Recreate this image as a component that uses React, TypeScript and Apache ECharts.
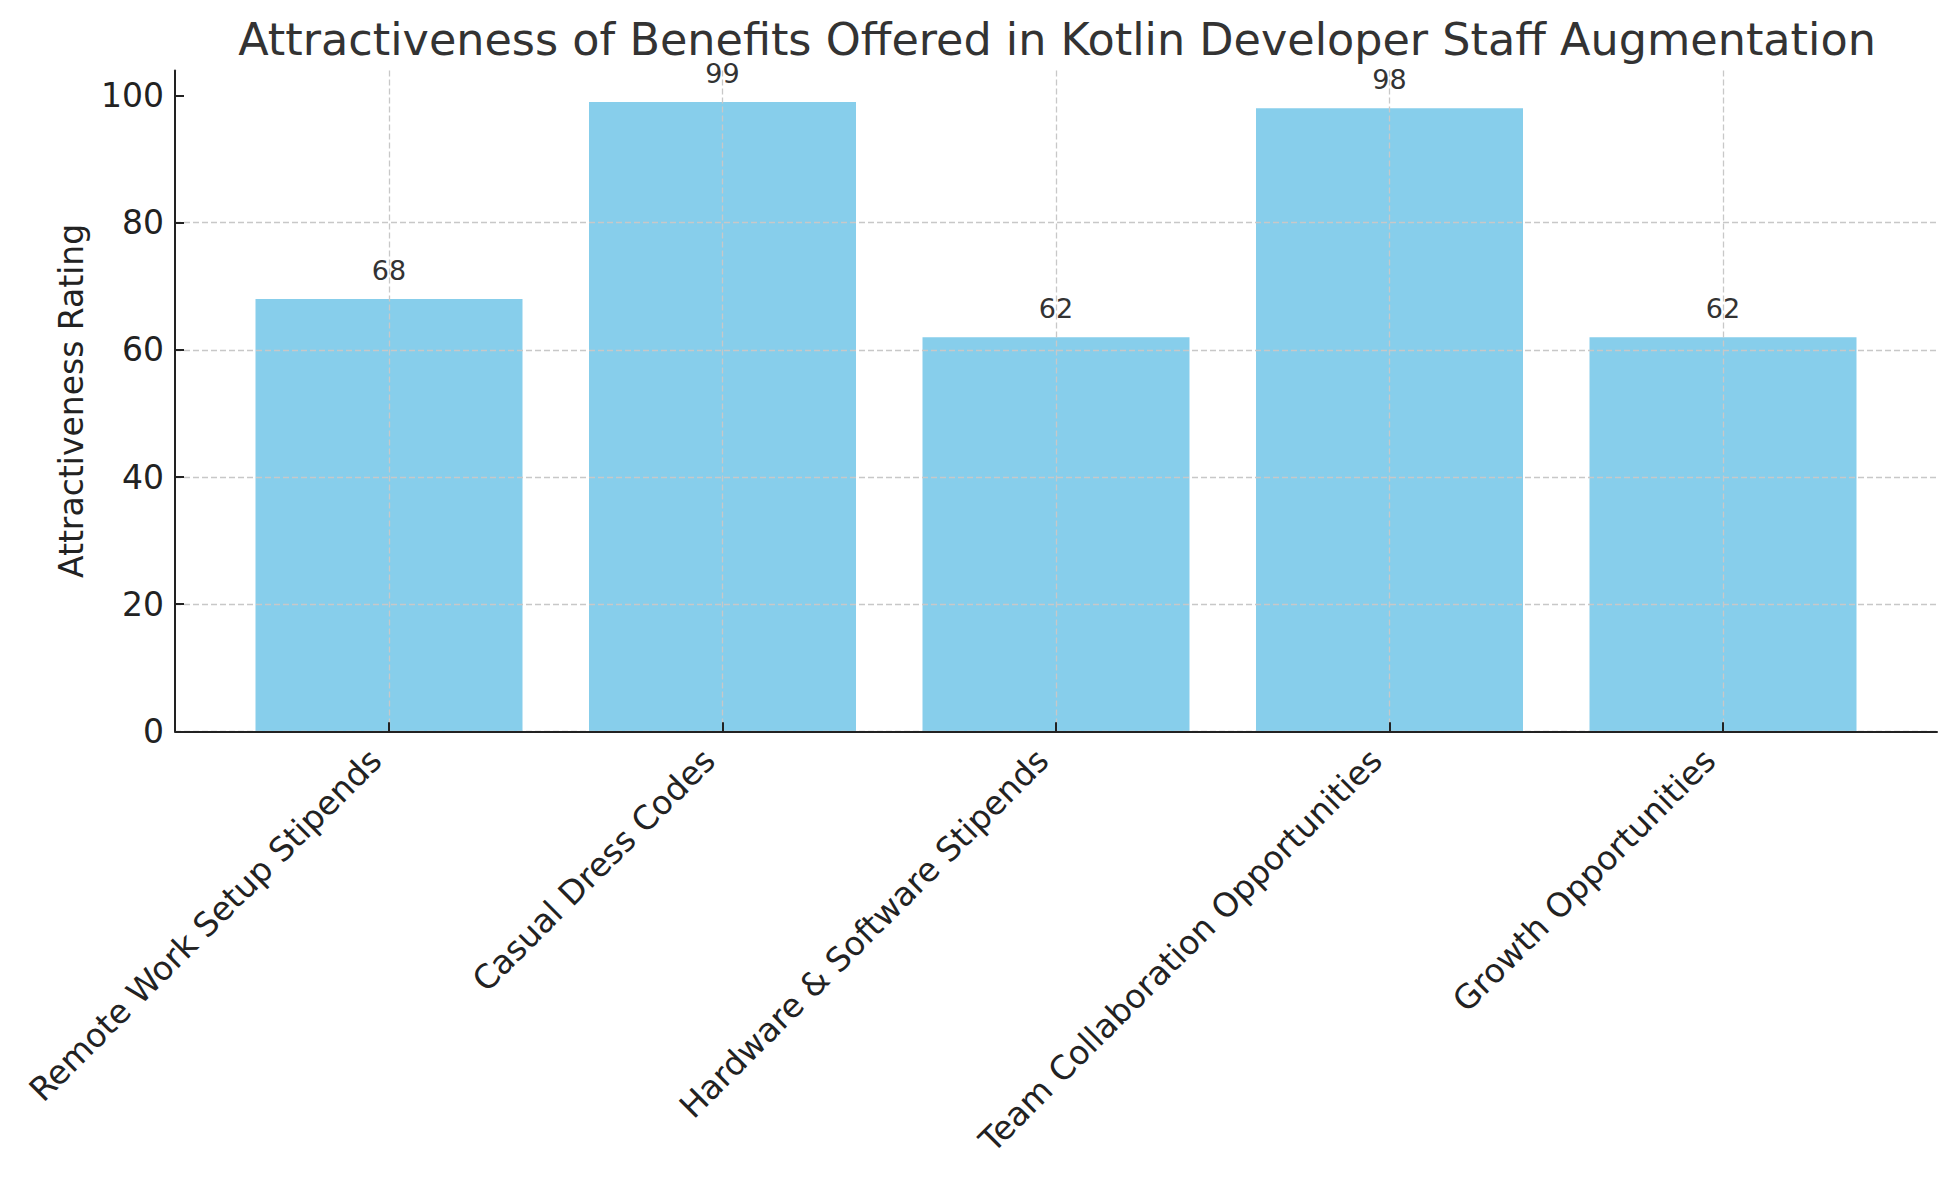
import React, { useEffect, useRef } from "react";
import * as echarts from "echarts";

const categories = [
  "Remote Work Setup Stipends",
  "Casual Dress Codes",
  "Hardware & Software Stipends",
  "Team Collaboration Opportunities",
  "Growth Opportunities",
];
const ratings = [68, 99, 62, 98, 62];
const yTicks = [0, 20, 40, 60, 80, 100];
const yMax = 103.95;

const FONT = "DejaVu Sans";
const GRID_TOP = 70.5;
const GRID_BOTTOM = 1180 - 731.3;

export default function App() {
  const ref = useRef<HTMLDivElement>(null);
  useEffect(() => {
    if (!ref.current) return;
    document.body.style.margin = "0";
    const chart = echarts.init(ref.current, undefined, { renderer: "svg" });
    const gridLine = { show: true, lineStyle: { color: "#c8c8c8", width: 1.3, type: [6, 3] as any } };
    chart.setOption({
      animation: false,
      backgroundColor: "#ffffff",
      title: {
        text: "Attractiveness of Benefits Offered in Kotlin Developer Staff Augmentation",
        left: 1057,
        textAlign: "center",
        top: 17,
        padding: 0,
        textStyle: { fontFamily: FONT, fontSize: 44.5, fontWeight: "normal", color: "#333333" },
      },
      grid: [
        { left: 175, right: 17, top: GRID_TOP, bottom: GRID_BOTTOM, containLabel: false },
        { left: 389, right: 231, top: GRID_TOP, bottom: GRID_BOTTOM, containLabel: false },
      ],
      xAxis: [
        {
          type: "value",
          gridIndex: 0,
          min: 0,
          max: 1,
          z: 4,
          axisLine: { show: true, onZero: false, lineStyle: { color: "#222222", width: 2 } },
          axisTick: { show: false },
          axisLabel: { show: false },
          splitLine: { show: false },
        },
        {
          type: "category",
          gridIndex: 1,
          data: categories,
          boundaryGap: false,
          z: 4,
          axisLine: { show: false },
          axisTick: { show: true, inside: true, length: 9, lineStyle: { color: "#222222", width: 2 } },
          axisLabel: {
            interval: 0,
            rotate: 45,
            margin: 10,
            padding: [0, 19, 0, 0],
            fontFamily: FONT,
            fontSize: 33,
            color: "#222222",
          },
          splitLine: gridLine,
        },
      ],
      yAxis: [
        {
          type: "value",
          gridIndex: 0,
          min: 0,
          max: yMax,
          interval: 20,
          z: 4,
          name: "Attractiveness Rating",
          nameLocation: "middle",
          nameGap: 87,
          nameTextStyle: { fontFamily: FONT, fontSize: 33, color: "#222222" },
          axisLine: { show: true, lineStyle: { color: "#222222", width: 2 } },
          axisTick: { show: true, inside: true, length: 9, customValues: yTicks, lineStyle: { color: "#222222", width: 2 } },
          axisLabel: {
            customValues: yTicks,
            margin: 11,
            fontFamily: FONT,
            fontSize: 33,
            color: "#222222",
            formatter: (v: number) => (v % 20 === 0 ? String(v) : ""),
          },
          splitLine: { ...gridLine, showMaxLine: false },
        },
        {
          type: "value",
          gridIndex: 1,
          min: 0,
          max: yMax,
          show: false,
          splitLine: { show: false },
        },
      ],
      series: [
        {
          type: "bar",
          xAxisIndex: 1,
          yAxisIndex: 1,
          data: ratings,
          barWidth: 267,
          clip: false,
          z: 2,
          itemStyle: { color: "#87CEEB" },
          label: {
            show: true,
            position: "top",
            distance: 15,
            fontFamily: FONT,
            fontSize: 27,
            color: "#333333",
          },
        },
      ],
    });
    return () => chart.dispose();
  }, []);
  return <div ref={ref} style={{ width: 1954, height: 1180 }} />;
}
